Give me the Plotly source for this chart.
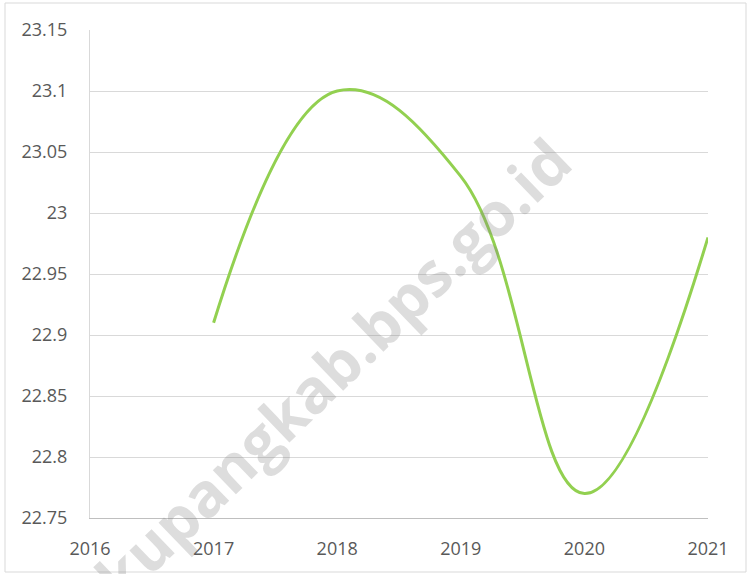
import plotly.graph_objects as go

years = [2017, 2018, 2019, 2020, 2021]
values = [22.91, 23.10, 23.03, 22.77, 22.98]
x_ticks = [2016, 2017, 2018, 2019, 2020, 2021]
y_ticks = [22.75, 22.8, 22.85, 22.9, 22.95, 23.0, 23.05, 23.1, 23.15]
y_tick_labels = ["22.75", "22.8", "22.85", "22.9", "22.95", "23", "23.05", "23.1", "23.15"]
watermark = "kupangkab.bps.go.id"

W, H = 748, 574
ML, MR, MT, MB = 90, 40, 30, 56
pw, ph = W - ML - MR, H - MT - MB

def px(x):
    return (x - ML) / pw

def py(y):
    return (H - MB - y) / ph

fig = go.Figure()
fig.add_trace(go.Scatter(
    x=years, y=values, mode="lines",
    line=dict(color="#92d050", width=3, shape="spline", smoothing=1.15),
    hoverinfo="skip", showlegend=False,
))

fig.update_layout(
    width=W, height=H,
    margin=dict(l=ML, r=MR, t=MT, b=MB),
    paper_bgcolor="white", plot_bgcolor="white",
    font=dict(family="Open Sans", size=18, color="#595959"),
    xaxis=dict(
        range=[2016, 2021], tickvals=x_ticks, ticktext=[str(v) for v in x_ticks],
        showgrid=False, zeroline=False, showline=True, linecolor="#bfbfbf", linewidth=1,
        ticks="", ticklabelstandoff=14,
    ),
    yaxis=dict(
        range=[22.75, 23.15], tickvals=y_ticks, ticktext=y_tick_labels,
        showgrid=True, gridcolor="#d9d9d9", gridwidth=1, zeroline=False,
        showline=True, linecolor="#d9d9d9", linewidth=1,
        ticks="", ticklabelstandoff=18,
    ),
    shapes=[dict(
        type="rect", xref="paper", yref="paper",
        x0=px(5), x1=px(746), y0=py(572), y1=py(3),
        line=dict(color="#d9d9d9", width=1), fillcolor="rgba(0,0,0,0)", layer="below",
    )],
    annotations=[dict(
        text=watermark, xref="paper", yref="paper", x=px(332), y=py(368),
        xanchor="center", yanchor="middle", showarrow=False, textangle=-44,
        font=dict(family="Open Sans", size=61, color="rgba(128,128,128,0.27)", weight="bold"),
    )],
)

fig.write_html(
    "out.html",
    config={"displayModeBar": False, "staticPlot": True},
    post_script="document.body.style.margin='0px';document.body.style.overflow='hidden';",
)
